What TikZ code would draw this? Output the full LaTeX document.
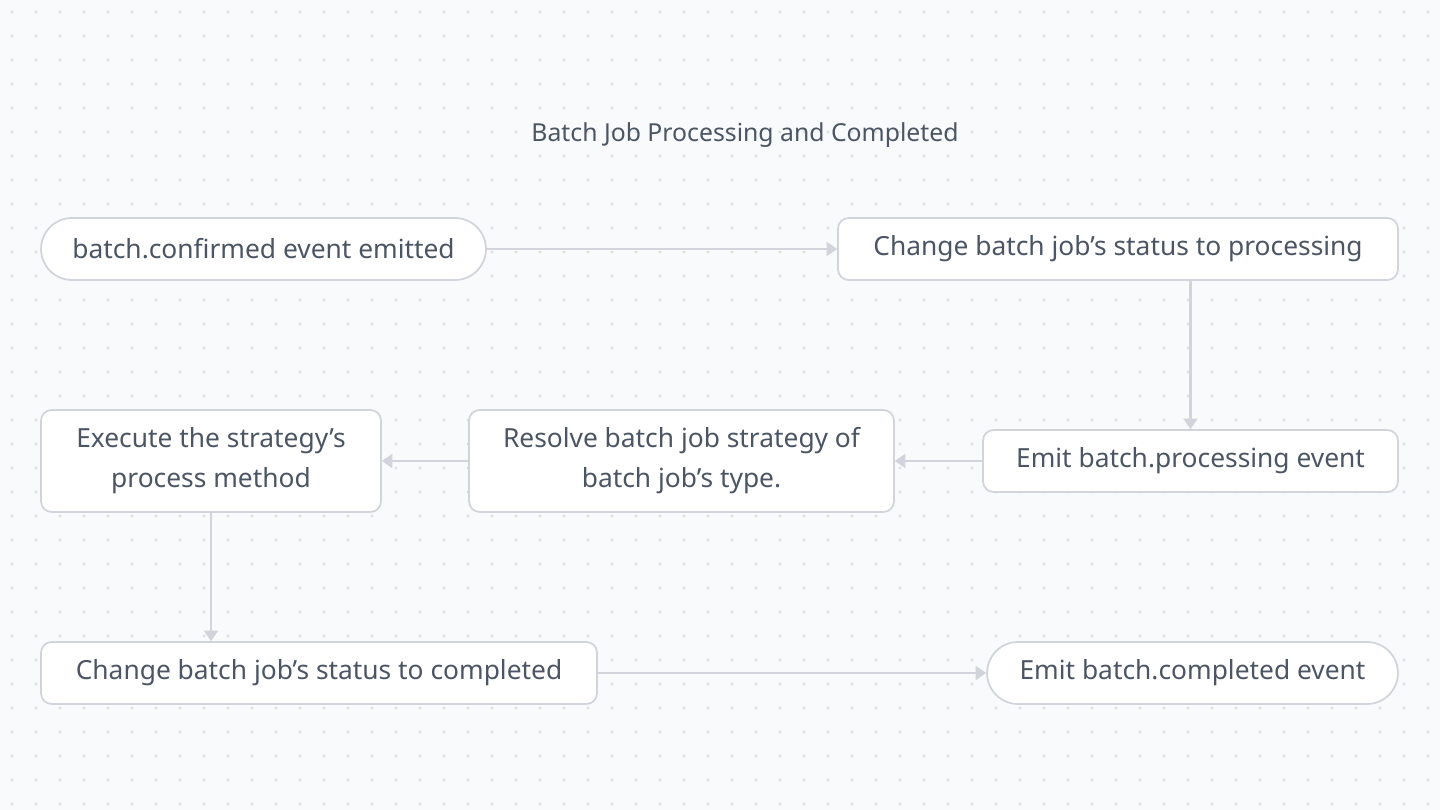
\documentclass[tikz,border=0pt]{standalone}
\usepackage{fontspec}
\setmainfont{Noto Sans}
\usepackage{tikz}
\usetikzlibrary{arrows.meta, positioning, calc, backgrounds}
\definecolor{canvas}{HTML}{F9FAFB}
\definecolor{griddot}{HTML}{DDDFE3}
\definecolor{edgecolor}{HTML}{D1D5DB}
\definecolor{inkcolor}{HTML}{4B5563}

\begin{document}
\begin{tikzpicture}[
    x=0.02cm, y=-0.02cm,
    box/.style={draw=edgecolor, line width=1pt, fill=white, rounded corners=6pt, align=center, inner sep=0pt,
        text=inkcolor, font=\fontsize{15}{22.7}\selectfont, minimum height=1.24cm},
    pill/.style={box, rounded corners=0.62cm},
    arrow/.style={-{Triangle[length=6pt, width=8pt]}, draw=edgecolor, line width=1.2pt}
]
    % background and dot grid
    \fill[canvas] (0,0) rectangle (1440,810);
    \useasboundingbox (0,0) rectangle (1440,810);
    \foreach \i in {0,...,59}
        \foreach \j in {0,...,33}
            \fill[griddot] (12+24*\i, 12+24*\j) circle (0.9pt);

    \node[text=inkcolor, font=\fontsize{14.1}{16}\selectfont] (title) at (745,135) {Batch Job Processing and Completed};

    \node[pill, minimum width=8.9cm] (confirmed) at (263.5,249) {batch.confirmed event emitted};
    \node[box, minimum width=11.2cm] (processing) at (1118,249) {Change batch job’s status to processing};
    \node[box, minimum width=8.3cm] (emitproc) at (1190.5,461) {Emit batch.processing event};
    \node[box, minimum width=8.5cm, minimum height=2.04cm] (resolve) at (681.5,461) {Resolve batch job strategy of\\batch job’s type.};
    \node[box, minimum width=6.8cm, minimum height=2.04cm] (execute) at (211,461) {Execute the strategy’s\\process method};
    \node[box, minimum width=11.12cm] (completed) at (319,673) {Change batch job’s status to completed};
    \node[pill, minimum width=8.22cm] (emitdone) at (1192.5,673) {Emit batch.completed event};

    \draw[arrow] (confirmed) -- (processing);
    \draw[arrow] (processing.south -| emitproc.north) -- (emitproc);
    \draw[arrow] (emitproc) -- (resolve);
    \draw[arrow] (resolve) -- (execute);
    \draw[arrow] (execute) -- (execute.south |- completed.north);
    \draw[arrow] (completed) -- (emitdone);
\end{tikzpicture}
\end{document}
